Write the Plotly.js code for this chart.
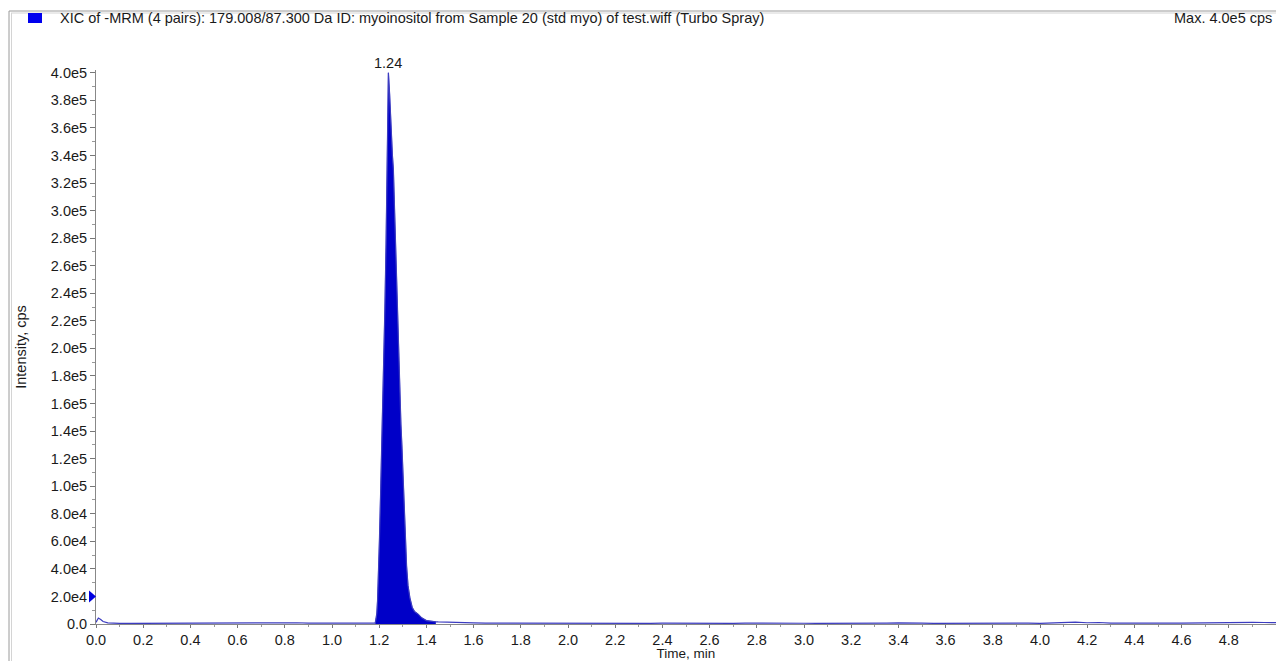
<!DOCTYPE html>
<html>
<head>
<meta charset="utf-8">
<script src="https://cdn.plot.ly/plotly-3.0.1.min.js"></script>
<style>
html,body{margin:0;padding:0;background:#fff;}
#chart{width:1276px;height:661px;}
</style>
</head>
<body>
<div id="chart"></div>
<script>
// ---- Data ----
const titleText = "XIC of -MRM (4 pairs): 179.008/87.300 Da ID: myoinositol from Sample 20 (std myo) of test.wiff (Turbo Spray)";
const maxText = "Max. 4.0e5 cps";
const peakLabel = "1.24";
const peakTime = 1.239;
const peakMax = 400000;
const thresholdLevel = 20000;
const integrationStart = 1.183;
const integrationEnd = 1.44;

const times = [
  0, 0.01, 0.02, 0.03, 0.05, 0.08, 0.1, 0.15, 0.2, 0.25, 0.3, 0.35, 0.4, 0.45, 0.5, 0.55,
  0.6, 0.65, 0.7, 0.75, 0.8, 0.85, 0.9, 0.95, 1.0, 1.05, 1.1, 1.15, 1.18,
  1.183, 1.187, 1.190, 1.193, 1.197, 1.201, 1.206, 1.212, 1.218, 1.224, 1.229, 1.232, 1.235, 1.239,
  1.244, 1.248, 1.252, 1.256, 1.260, 1.264, 1.268, 1.272, 1.276, 1.280, 1.284, 1.288, 1.292, 1.296,
  1.300, 1.305, 1.310, 1.316, 1.322, 1.330, 1.340, 1.350, 1.366, 1.380, 1.400, 1.420, 1.44,
  1.45, 1.5, 1.55, 1.6, 1.65, 1.7, 1.75, 1.8, 1.85, 1.9, 1.95, 2.0, 2.05, 2.1, 2.15, 2.2, 2.25,
  2.3, 2.35, 2.4, 2.45, 2.5, 2.55, 2.6, 2.65, 2.7, 2.75, 2.8, 2.85, 2.9, 2.95, 3.0, 3.05, 3.1,
  3.15, 3.2, 3.25, 3.3, 3.35, 3.4, 3.45, 3.5, 3.55, 3.6, 3.65, 3.7, 3.75, 3.8, 3.85, 3.9, 3.95,
  4.0, 4.05, 4.1, 4.15, 4.2, 4.25, 4.3, 4.35, 4.4, 4.45, 4.5, 4.55, 4.6, 4.65, 4.7, 4.75, 4.8,
  4.85, 4.9, 4.95, 5.0
];
const intensities = [
  1200, 4300, 3200, 1800, 800, 500, 450, 400, 450, 400, 450, 400, 450, 500, 450, 600,
  900, 1000, 800, 600, 700, 900, 600, 550, 500, 500, 450, 500, 500,
  600, 4000, 8000, 17000, 35000, 61000, 95000, 133000, 180000, 228000, 275000, 330000, 375000, 400000,
  385000, 365000, 350000, 340000, 330000, 305000, 285000, 265000, 240000, 215000, 190000, 165000, 145000, 130000,
  110000, 85000, 62000, 42000, 28000, 19000, 12000, 9000, 7000, 4500, 2500, 1800, 1600,
  1500, 1100, 900, 800, 700, 650, 600, 550, 600, 500, 550, 500, 450, 500, 450, 500, 550,
  450, 500, 600, 500, 450, 500, 550, 450, 500, 600, 700, 500, 450, 500, 550, 500, 450,
  600, 700, 550, 500, 600, 800, 900, 600, 500, 550, 650, 800, 900, 600, 500, 550, 600,
  500, 700, 1200, 1300, 900, 1100, 700, 600, 650, 700, 600, 650, 700, 800, 1300, 1400, 1500,
  1300, 1200, 1100, 1000
];

const xTickVals = [0,0.2,0.4,0.6,0.8,1.0,1.2,1.4,1.6,1.8,2.0,2.2,2.4,2.6,2.8,3.0,3.2,3.4,3.6,3.8,4.0,4.2,4.4,4.6,4.8];
const xTickText = ["0.0","0.2","0.4","0.6","0.8","1.0","1.2","1.4","1.6","1.8","2.0","2.2","2.4","2.6","2.8","3.0","3.2","3.4","3.6","3.8","4.0","4.2","4.4","4.6","4.8"];
const yTickVals = [0,20000,40000,60000,80000,100000,120000,140000,160000,180000,200000,220000,240000,260000,280000,300000,320000,340000,360000,380000,400000];
const yTickText = ["0.0","2.0e4","4.0e4","6.0e4","8.0e4","1.0e5","1.2e5","1.4e5","1.6e5","1.8e5","2.0e5","2.2e5","2.4e5","2.6e5","2.8e5","3.0e5","3.2e5","3.4e5","3.6e5","3.8e5","4.0e5"];

// ---- Layout geometry helpers ----
const W = 1276, H = 661;
const M = {l: 96, r: 0, t: 70, b: 37};
const pw = W - M.l - M.r, ph = H - M.t - M.b;
const px = v => (v - M.l) / pw;
const py = v => (H - M.b - v) / ph;

const fillX = [], fillY = [];
times.forEach((t, i) => {
  if (t >= integrationStart && t <= integrationEnd) { fillX.push(t); fillY.push(intensities[i]); }
});

const traces = [
  {
    x: fillX, y: fillY, type: 'scatter', mode: 'lines',
    fill: 'tozeroy', fillcolor: '#0000c8',
    line: {color: '#0000c8', width: 0.5},
    hoverinfo: 'skip', showlegend: false
  },
  {
    x: times, y: intensities, type: 'scatter', mode: 'lines',
    line: {color: '#3c3cc0', width: 1.2},
    showlegend: false
  }
];

const FS = 14.5;
const font = {family: 'Liberation Sans, Arial, sans-serif', size: FS, color: '#1a1a1a'};

const layout = {
  width: W, height: H,
  margin: M,
  paper_bgcolor: '#ffffff', plot_bgcolor: '#ffffff',
  font: font,
  showlegend: false,
  xaxis: {
    range: [0, 5.0], autorange: false,
    tickmode: 'array', tickvals: xTickVals, ticktext: xTickText,
    ticks: 'outside', ticklen: 3, tickcolor: '#777',
    minor: {dtick: 0.1, tick0: 0, ticks: 'outside', ticklen: 2, tickcolor: '#999'},
    showgrid: false, zeroline: false,
    showline: true, linecolor: '#888', linewidth: 1,
    tickfont: {size: FS},
    automargin: false,
    title: {text: 'Time, min', font: {size: 13.5}, standoff: 4}
  },
  yaxis: {
    range: [0, 402000], autorange: false,
    tickmode: 'array', tickvals: yTickVals, ticktext: yTickText,
    ticks: 'outside', ticklen: 5, tickcolor: '#777',
    minor: {dtick: 10000, tick0: 0, ticks: 'outside', ticklen: 3, tickcolor: '#999'},
    showgrid: false, zeroline: false,
    showline: true, linecolor: '#888', linewidth: 1,
    tickfont: {size: FS},
    automargin: false,
    title: {text: 'Intensity, cps', font: {size: FS}, standoff: 20}
  },
  annotations: [
    {xref: 'paper', yref: 'paper', x: px(58), y: py(18), xanchor: 'left', yanchor: 'middle',
     text: titleText, showarrow: false, font: {size: FS}},
    {xref: 'paper', yref: 'paper', x: px(1274), y: py(18), xanchor: 'right', yanchor: 'middle',
     text: maxText, showarrow: false, font: {size: FS}},
    {xref: 'x', yref: 'y', x: peakTime, y: peakMax, xanchor: 'center', yanchor: 'bottom',
     text: peakLabel, showarrow: false, font: {size: FS}, yshift: 0}
  ],
  shapes: [
    // window frame
    {type: 'line', xref: 'paper', yref: 'paper', x0: px(9), x1: px(1276), y0: py(11), y1: py(11),
     line: {color: '#9a9a9a', width: 1}},
    {type: 'line', xref: 'paper', yref: 'paper', x0: px(11), x1: px(1276), y0: py(13), y1: py(13),
     line: {color: '#d4d4d4', width: 1}},
    {type: 'line', xref: 'paper', yref: 'paper', x0: px(9), x1: px(9), y0: py(11), y1: py(661),
     line: {color: '#9a9a9a', width: 1}},
    {type: 'line', xref: 'paper', yref: 'paper', x0: px(11.5), x1: px(11.5), y0: py(13), y1: py(661),
     line: {color: '#d4d4d4', width: 1}},
    // legend swatch
    {type: 'rect', xref: 'paper', yref: 'paper', x0: px(28), x1: px(42), y0: py(13), y1: py(23),
     fillcolor: '#0000ee', line: {width: 0}},
    // threshold marker
    {type: 'path', xref: 'paper', yref: 'y', xsizemode: 'pixel', ysizemode: 'pixel',
     xanchor: 0, yanchor: thresholdLevel, path: 'M -7 6 L -7 -6 L 0 0 Z',
     fillcolor: '#0000e0', line: {width: 0}}
  ]
};

Plotly.newPlot('chart', traces, layout, {staticPlot: true, displayModeBar: false});
</script>
</body>
</html>
